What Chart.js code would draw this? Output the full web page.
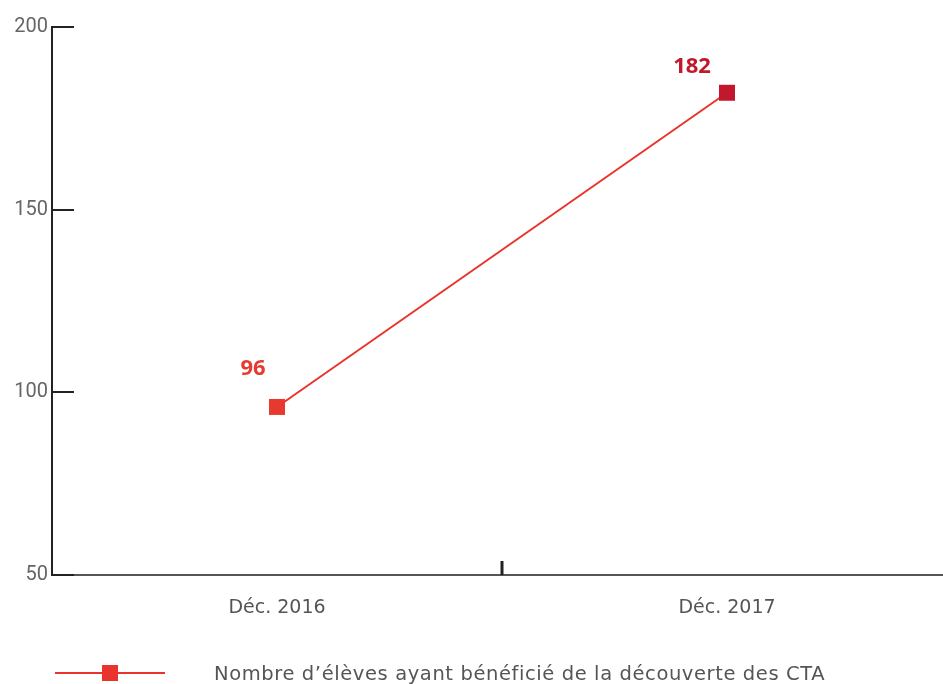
<!DOCTYPE html>
<html lang="fr">
<head>
<meta charset="UTF-8">
<script src="https://cdn.jsdelivr.net/npm/chart.js"></script>
<style>
  html, body { margin: 0; padding: 0; background: #fff; overflow: hidden; }
  #wrap { position: relative; width: 943px; height: 684px; overflow: hidden; }
  #graphique { display: block; width: 943px; height: 684px; }
  #legende { position: absolute; left: 55px; top: 661px; height: 24px; display: flex; align-items: center;
    font-family: "DejaVu Sans", sans-serif; font-size: 19.5px; color: #555; letter-spacing: 0.6px; white-space: nowrap; }
  #legende .trait { position: relative; width: 110px; height: 2px; background: #e8342c; margin-right: 49px; }
  #legende .carre { position: absolute; left: 47px; top: -7px; width: 16px; height: 16px; background: #e8342c; }
</style>
<title>Découverte des CTA</title>
</head>
<body>
<div id="wrap">
  <canvas id="graphique" width="943" height="684"></canvas>
  <div id="legende"><span class="trait"><span class="carre"></span></span><span>Nombre d’élèves ayant bénéficié de la découverte des CTA</span></div>
</div>
<script>
const categories = ['Déc. 2016', 'Déc. 2017'];
const eleves = [96, 182];
const graduations = [50, 100, 150, 200];

const couleurLigne = '#e8342c';
const couleursPoints = ['#e8392e', '#c1182c'];
const decalages = [[-24, -38], [-35, -26]];

// petites graduations dessinées vers l'intérieur + étiquettes des valeurs
const traits = {
  id: 'traits',
  afterDraw(chart) {
    const ctx = chart.ctx;
    const x = chart.scales.x, y = chart.scales.y;
    const gauche = chart.chartArea.left;
    ctx.save();
    ctx.strokeStyle = '#222';
    ctx.lineWidth = 2;
    graduations.forEach(v => {
      const py = Math.round(y.getPixelForValue(v));
      ctx.beginPath();
      ctx.moveTo(gauche, py);
      ctx.lineTo(gauche + 22, py);
      ctx.stroke();
    });
    // séparation entre les deux catégories
    const milieu = x.getPixelForValue(0.5);
    ctx.lineWidth = 3;
    ctx.beginPath();
    ctx.moveTo(milieu, chart.chartArea.bottom);
    ctx.lineTo(milieu, chart.chartArea.bottom - 14);
    ctx.stroke();

    const meta = chart.getDatasetMeta(0);
    ctx.font = 'bold 22px "Open Sans", sans-serif';
    ctx.textAlign = 'center';
    ctx.textBaseline = 'middle';
    meta.data.forEach((pt, i) => {
      ctx.fillStyle = couleursPoints[i];
      ctx.fillText(String(eleves[i]), pt.x + decalages[i][0], pt.y + decalages[i][1]);
    });
    ctx.restore();
  }
};

new Chart(document.getElementById('graphique'), {
  type: 'line',
  data: {
    datasets: [{
      label: 'Nombre d’élèves ayant bénéficié de la découverte des CTA',
      data: eleves.map((v, i) => ({ x: i, y: v })),
      borderColor: couleurLigne,
      borderWidth: 2,
      pointStyle: 'rect',
      pointRadius: 11.3,
      pointHoverRadius: 11.3,
      pointBorderWidth: 0,
      pointBackgroundColor: couleursPoints,
      tension: 0
    }]
  },
  options: {
    responsive: false,
    animation: false,
    events: [],
    layout: { autoPadding: false, padding: { top: 27, right: 0, bottom: 0, left: 0 } },
    plugins: { legend: { display: false }, tooltip: { enabled: false } },
    scales: {
      x: {
        type: 'linear',
        min: -0.5,
        max: 1.48,
        afterBuildTicks: s => { s.ticks = categories.map((c, i) => ({ value: i })); },
        grid: { display: false, drawTicks: false },
        border: { display: true, color: '#555', width: 2 },
        ticks: {
          color: '#555', padding: 22, font: { family: '"DejaVu Sans", sans-serif', size: 19 },
          callback: v => categories[v]
        },
        afterFit: s => { s.height = 109; }
      },
      y: {
        min: 50,
        max: 200,
        afterBuildTicks: s => { s.ticks = graduations.map(v => ({ value: v })); },
        grid: { drawOnChartArea: false, drawTicks: false },
        border: { display: true, color: '#222', width: 2 },
        ticks: { color: '#666', padding: 4, font: { family: 'Roboto, sans-serif', size: 20 } },
        afterFit: s => { s.width = 52; }
      }
    }
  },
  plugins: [traits]
});
</script>
</body>
</html>
